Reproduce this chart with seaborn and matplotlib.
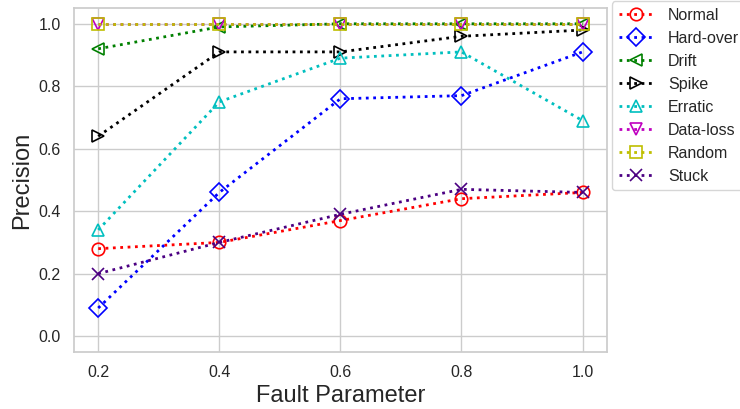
import matplotlib
matplotlib.use("Agg")
import matplotlib.pyplot as plt
import seaborn as sns

fault_params = [0.2, 0.4, 0.6, 0.8, 1.0]
tick_labels = ["0.2", "0.4", "0.6", "0.8", "1.0"]

normal = [0.28, 0.30, 0.37, 0.44, 0.46]
hard_over = [0.09, 0.46, 0.76, 0.77, 0.91]
drift = [0.92, 0.99, 1.00, 1.00, 1.00]
spike = [0.64, 0.91, 0.91, 0.96, 0.98]
erratic = [0.34, 0.75, 0.89, 0.91, 0.69]
data_loss = [1.00, 1.00, 1.00, 1.00, 1.00]
random_fault = [1.00, 1.00, 1.00, 1.00, 1.00]
stuck = [0.20, 0.30, 0.39, 0.47, 0.46]

series = [
    ("Normal", normal, "#ff0000", "o"),
    ("Hard-over", hard_over, "#0000ff", "D"),
    ("Drift", drift, "#008000", "<"),
    ("Spike", spike, "#000000", ">"),
    ("Erratic", erratic, "#00bfbf", "^"),
    ("Data-loss", data_loss, "#bf00bf", "v"),
    ("Random", random_fault, "#bfbf00", "s"),
    ("Stuck", stuck, "#4b0082", "x"),
]

sns.set_theme(style="whitegrid")
plt.rcParams["font.family"] = ["Liberation Sans", "DejaVu Sans"]

fig, ax = plt.subplots(figsize=(7.4, 4.09), dpi=100)

for name, vals, color, marker in series:
    sns.lineplot(x=fault_params, y=vals, ax=ax, color=color, marker=marker,
                 linestyle=":", linewidth=2, markersize=9,
                 markerfacecolor="none", markeredgecolor=color,
                 markeredgewidth=1.2, label=name)

ax.set_xticks(fault_params)
ax.set_xticklabels(tick_labels)
ax.set_ylim(-0.05, 1.05)
ax.set_xlim(0.16, 1.04)
ax.set_xlabel("Fault Parameter", fontsize=17)
ax.set_ylabel("Precision", fontsize=17)
ax.tick_params(labelsize=11.5)
ax.legend(loc="upper left", bbox_to_anchor=(1.01, 1.02), fontsize=11.5,
          borderaxespad=0.0, handlelength=2.2, handletextpad=0.9)

fig.subplots_adjust(left=0.1, right=0.82, top=0.98, bottom=0.14)
fig.savefig("out.png", dpi=100)
